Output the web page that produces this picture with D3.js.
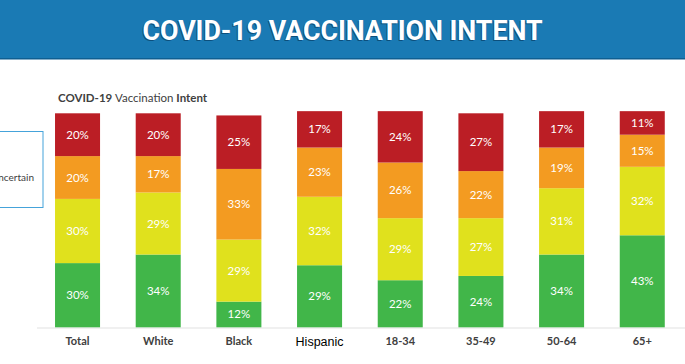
<!DOCTYPE html>
<html>
<head>
<meta charset="utf-8">
<script src="https://cdn.jsdelivr.net/npm/d3@7/dist/d3.min.js"></script>
<style>
  html, body { margin: 0; padding: 0; background: #fff; }
  svg { display: block; }
</style>
</head>
<body>
<svg id="chart" width="685" height="364"></svg>
<script>
// ---- Data ----
const categories = ["Total", "White", "Black", "Hispanic", "18-34", "35-49", "50-64", "65+"];
const seriesNames = ["Definitely", "Probably", "Uncertain", "No"];
const definitely = [30, 34, 12, 29, 22, 24, 34, 43];
const probably   = [30, 29, 29, 32, 29, 27, 31, 32];
const uncertain  = [20, 17, 33, 23, 26, 22, 19, 15];
const noIntent   = [20, 20, 25, 17, 24, 27, 17, 11];
const seriesColors = ["#41b649", "#e0e11d", "#f39b21", "#bb1e25"];
const titleText = "COVID-19 VACCINATION INTENT";
const yTicks = [0, 100];

// ---- Build table ----
const seriesValues = [definitely, probably, uncertain, noIntent];
const table = categories.map((c, i) => {
  const row = { category: c };
  seriesNames.forEach((s, k) => row[s] = seriesValues[k][i]);
  return row;
});

const svg = d3.select("#chart");
const W = 685, H = 364;

// Header band
svg.append("rect").attr("x", 0).attr("y", 0).attr("width", W).attr("height", 59).attr("fill", "#1a7ab4");
svg.append("rect").attr("x", 0).attr("y", 58).attr("width", W).attr("height", 1.5).attr("fill", "#0f5f92");
svg.append("text")
  .attr("x", W / 2 - 1).attr("y", 40.5)
  .attr("text-anchor", "middle")
  .attr("font-family", "Roboto, 'DejaVu Sans', sans-serif")
  .attr("font-weight", 700).attr("font-size", 28)
  .attr("textLength", 400).attr("lengthAdjust", "spacingAndGlyphs")
  .attr("fill", "#0c4f7c")
  .text(titleText);
svg.append("text")
  .attr("x", W / 2).attr("y", 39.5)
  .attr("text-anchor", "middle")
  .attr("font-family", "Roboto, 'DejaVu Sans', sans-serif")
  .attr("font-weight", 700).attr("font-size", 28)
  .attr("textLength", 400).attr("lengthAdjust", "spacingAndGlyphs")
  .attr("fill", "#ffffff")
  .text(titleText);

// Subtitle
const sub = svg.append("text")
  .attr("x", 58).attr("y", 101.5)
  .attr("font-family", "Lato, 'Open Sans', sans-serif")
  .attr("font-size", 11.5).attr("fill", "#404040");
sub.append("tspan").attr("font-weight", 700).text("COVID-19 ");
sub.append("tspan").attr("font-weight", 400).text("Vaccination ");
sub.append("tspan").attr("font-weight", 700).text("Intent");

// Partial legend box (clipped at left edge, as in the reference)
svg.append("rect").attr("x", -60).attr("y", 131.5).attr("width", 103).attr("height", 76)
  .attr("fill", "none").attr("stroke", "#45a3da").attr("stroke-width", 1);
svg.append("text")
  .attr("x", 34).attr("y", 181)
  .attr("text-anchor", "end")
  .attr("font-family", "Lato, 'Open Sans', sans-serif")
  .attr("font-size", 10).attr("fill", "#404040")
  .text("Uncertain");

// Scales
const x = d3.scaleBand().domain(categories).range([37.2, 682.6]).paddingInner(0.442).paddingOuter(0.221);
const y = d3.scaleLinear().domain(yTicks).range([327.3, 113.3]);

// Baseline
svg.append("line").attr("x1", 37).attr("x2", W).attr("y1", 328).attr("y2", 328)
  .attr("stroke", "#e2e2e2").attr("stroke-width", 1.2);

const stack = d3.stack().keys(seriesNames);
const stacked = stack(table);

const layers = svg.append("g").selectAll("g").data(stacked).join("g")
  .attr("fill", (d, i) => seriesColors[i]);

layers.selectAll("rect").data(d => d).join("rect")
  .attr("x", d => x(d.data.category))
  .attr("width", x.bandwidth())
  .attr("y", d => y(d[1]))
  .attr("height", d => y(d[0]) - y(d[1]));

const labels = svg.append("g");
stacked.forEach(layer => {
  labels.selectAll(null).data(layer).join("text")
    .attr("x", d => x(d.data.category) + x.bandwidth() / 2)
    .attr("y", d => (y(d[0]) + y(d[1])) / 2 + 4)
    .attr("text-anchor", "middle")
    .attr("font-family", "Lato, 'Open Sans', sans-serif")
    .attr("font-size", 11.5).attr("font-weight", 400)
    .attr("fill", "#ffffff")
    .text(d => (d[1] - d[0]) + "%");
});

// Category axis labels
const xAxis = d3.axisBottom(x).tickSize(0).tickPadding(0);
const gx = svg.append("g").attr("transform", "translate(0,337)").call(xAxis);
gx.select(".domain").remove();
gx.selectAll("text")
  .attr("dy", "0.71em")
  .attr("font-family", d => d === "Hispanic" ? "'Liberation Sans', Arial, sans-serif" : "Lato, 'Open Sans', sans-serif")
  .attr("font-weight", d => d === "Hispanic" ? 400 : 700)
  .attr("font-size", d => d === "Hispanic" ? 12.5 : 11)
  .attr("fill", d => d === "Hispanic" ? "#000000" : "#404040");
</script>
</body>
</html>
